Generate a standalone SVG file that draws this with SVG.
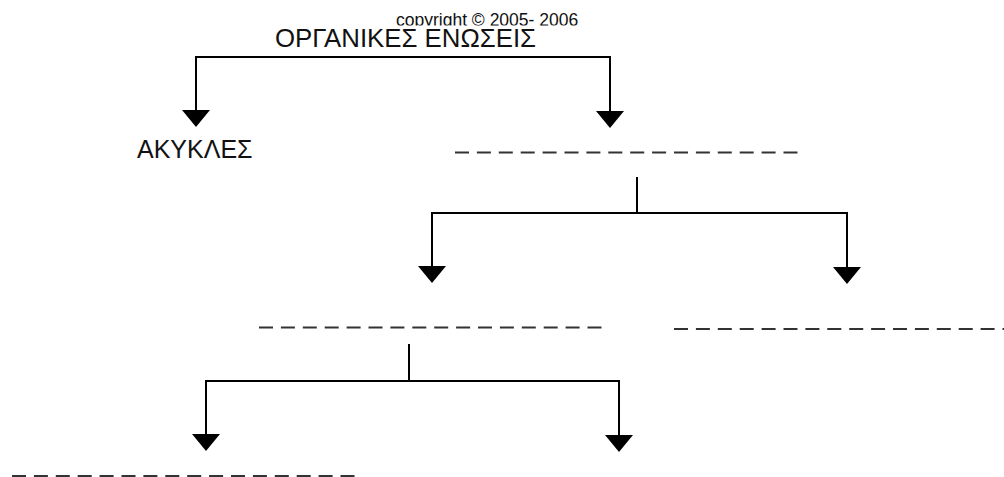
<svg xmlns="http://www.w3.org/2000/svg" width="1004" height="477" viewBox="0 0 1004 477">
<style>
.t{font-family:"Liberation Sans",Arial,sans-serif;fill:#111}
.ln{fill:none;stroke:#000;stroke-width:2}
.bl{stroke:#333;stroke-width:2.2;stroke-dasharray:14 7.9;fill:none}
.ah{fill:#000}
</style>
<defs>
<path id="ah" d="M-14,0 L14,0 L0,17 Z"/>
<clipPath id="cp"><rect x="0" y="0" width="1004" height="25.5"/></clipPath>
</defs>
<rect width="1004" height="477" fill="#fff"/>
<g id="copyright"><text class="t" x="396" y="26" font-size="17.5" clip-path="url(#cp)">copyright © 2005- 2006</text></g>
<g id="root"><text class="t" x="275" y="47" font-size="26" textLength="261" lengthAdjust="spacingAndGlyphs">ΟΡΓΑΝΙΚΕΣ ΕΝΩΣΕΙΣ</text></g>
<g id="akykles"><text class="t" x="137" y="158" font-size="25">ΑΚΥΚΛΕΣ</text></g>
<g id="blank1"><line class="bl" x1="455" y1="152.5" x2="798" y2="152.5"/></g>
<g id="blank2"><line class="bl" x1="259" y1="327.5" x2="602" y2="327.5"/></g>
<g id="blank3"><line class="bl" x1="674" y1="329" x2="1004" y2="329"/></g>
<g id="blank4"><line class="bl" x1="12" y1="476" x2="355" y2="476"/></g>
<g id="connectors">
<path class="ln" d="M196,111 V57 H610 V112"/>
<use href="#ah" x="196" y="110" class="ah"/>
<use href="#ah" x="610" y="111" class="ah"/>
<path class="ln" d="M637,177 V213 M432,267 V213 H847 V268"/>
<use href="#ah" x="432" y="266" class="ah"/>
<use href="#ah" x="847" y="267" class="ah"/>
<path class="ln" d="M409,344 V381 M206,435 V381 H619 V436"/>
<use href="#ah" x="206" y="434" class="ah"/>
<use href="#ah" x="619" y="435" class="ah"/>
</g>
</svg>
